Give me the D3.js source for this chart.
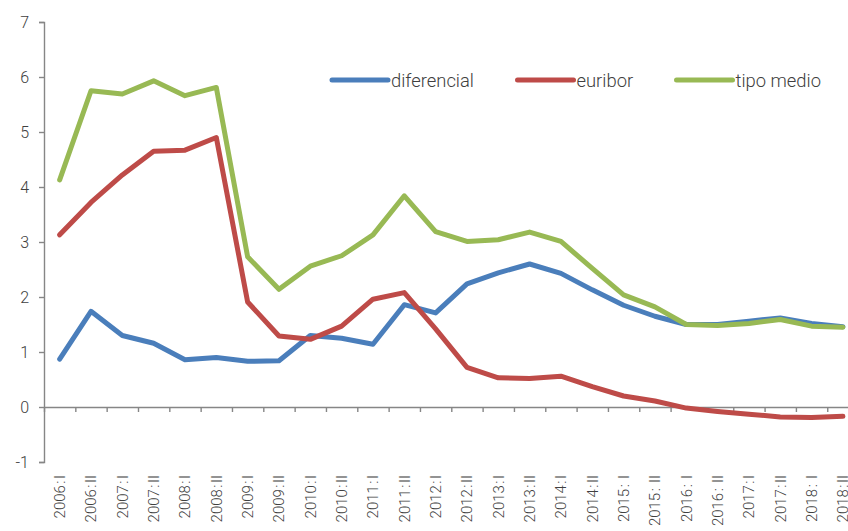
<!DOCTYPE html>
<html>
<head>
<meta charset="utf-8">
<script src="https://cdn.jsdelivr.net/npm/d3@7"></script>
<style>
  html, body { margin: 0; padding: 0; background: #fff; }
  svg { display: block; }
  text { font-family: Roboto, "Open Sans", sans-serif; font-weight: 300; fill: #404040; }
</style>
</head>
<body>
<script>
// Half-year periods
const periods = ["2006:I","2006:II","2007:I","2007:II","2008:I","2008:II","2009:I","2009:II",
  "2010:I","2010:II","2011:I","2011:II","2012:I","2012:II","2013:I","2013:II","2014:I","2014:II",
  "2015: I","2015: II","2016: I","2016: II","2017:I","2017:II","2018: I","2018:II"];

// Series (%)
const diferencial = [0.87,1.74,1.30,1.16,0.86,0.90,0.83,0.84,1.30,1.25,1.14,1.86,1.71,2.24,
  2.44,2.60,2.43,2.13,1.85,1.65,1.50,1.50,1.56,1.62,1.52,1.46];
const euribor = [3.13,3.72,4.22,4.65,4.67,4.90,1.91,1.29,1.23,1.47,1.96,2.08,1.42,0.72,
  0.53,0.52,0.56,0.37,0.20,0.11,-0.02,-0.08,-0.13,-0.18,-0.19,-0.17];
const tipoMedio = [4.13,5.75,5.69,5.93,5.66,5.81,2.73,2.14,2.56,2.75,3.13,3.84,3.19,3.01,
  3.04,3.18,3.01,2.52,2.04,1.82,1.50,1.48,1.52,1.59,1.47,1.45];

const seriesNames = ["diferencial","euribor","tipo medio"];
const yTicks = [-1,0,1,2,3,4,5,6,7];

const series = [
  { name: seriesNames[0], values: diferencial, color: "#4A7EBB" },
  { name: seriesNames[1], values: euribor,     color: "#BE4B48" },
  { name: seriesNames[2], values: tipoMedio,   color: "#98B954" }
];

const W = 848, H = 531;
const left = 44, bandW = 31.33;
const right = left + bandW * periods.length;
const axisColor = "#868686";

const svg = d3.select("body").append("svg").attr("width", W).attr("height", H);

const x = d3.scaleBand().domain(periods).range([left, right]).padding(0);
const xi = d3.scaleLinear().domain([0, periods.length]).range([left, right]);
const y = d3.scaleLinear().domain([-1, 7]).range([462, 22]);
const cx = d => x(d) + x.bandwidth() / 2;

// Y axis
const gy = svg.append("g").attr("transform", `translate(${left},0)`)
  .call(d3.axisLeft(y).tickValues(yTicks).tickFormat(d => String(d))
    .tickSize(5).tickSizeOuter(5).tickPadding(10));
gy.selectAll("path, line").attr("stroke", axisColor).attr("stroke-width", 1.4);
gy.selectAll("text").attr("font-size", 16).attr("fill", "#404040")
  .style("font-family", "Roboto, sans-serif").style("font-weight", 300);

// X axis line at zero with ticks between periods
const gx = svg.append("g").attr("transform", `translate(0,${y(0)})`)
  .call(d3.axisBottom(xi).tickValues(d3.range(0, periods.length + 1))
    .tickFormat("").tickSize(5).tickSizeOuter(0));
gx.selectAll("path, line").attr("stroke", axisColor).attr("stroke-width", 1.4);

// Period labels along the bottom
const gl = svg.append("g").attr("transform", `translate(0,475)`)
  .call(d3.axisBottom(x).tickSize(0).tickPadding(0));
gl.select(".domain").remove();
gl.selectAll("text")
  .attr("transform", "rotate(-90)")
  .attr("x", 0).attr("y", 0).attr("dy", "0.35em")
  .attr("text-anchor", "end")
  .attr("font-size", 15).attr("fill", "#404040")
  .style("font-family", "Roboto, sans-serif").style("font-weight", 300)
  .each(function(d) {
    // a little extra room around the colon
    const t = d3.select(this).text("");
    const k = d.indexOf(":");
    t.append("tspan").text(d.slice(0, k));
    t.append("tspan").attr("dx", 1.5).text(":");
    t.append("tspan").attr("dx", 1.5).text(d.slice(k + 1));
  });

// Lines
const line = d3.line().x((d, i) => cx(periods[i])).y(d => y(d));
svg.append("g").selectAll("path").data(series).join("path")
  .attr("d", s => line(s.values))
  .attr("fill", "none")
  .attr("stroke", s => s.color)
  .attr("stroke-width", 5)
  .attr("stroke-linejoin", "round")
  .attr("stroke-linecap", "round");

// Legend
const legendX = [332, 517.5, 676.5];
const lg = svg.append("g").selectAll("g").data(series).join("g")
  .attr("transform", (s, i) => `translate(${legendX[i]},80)`);
lg.append("line").attr("x1", 0).attr("x2", 56).attr("y1", 0).attr("y2", 0)
  .attr("stroke", s => s.color).attr("stroke-width", 5).attr("stroke-linecap", "round");
lg.append("text").attr("x", 59).attr("y", 6.5).attr("font-size", 18.4)
  .text(s => s.name);
</script>
</body>
</html>
